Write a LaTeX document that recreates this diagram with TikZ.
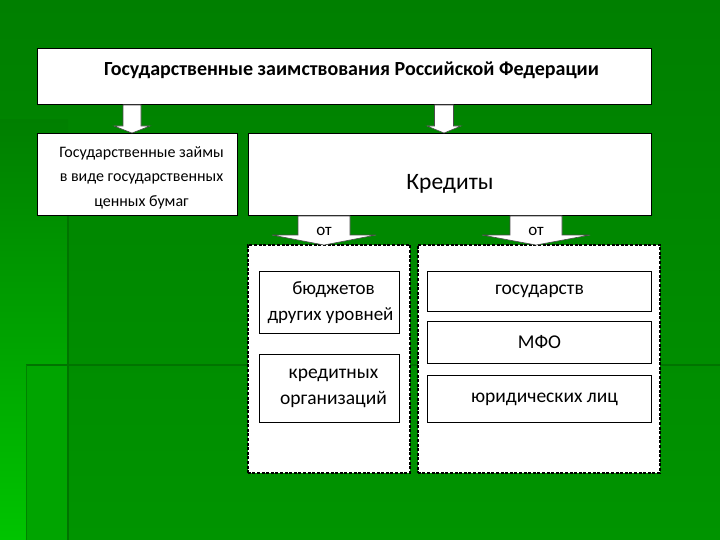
\documentclass[tikz,border=0pt]{standalone}
\usepackage{fontspec}
\setmainfont{Carlito}
\usetikzlibrary{positioning, calc}

\definecolor{bgtop}{HTML}{007F00}
\definecolor{bgbot}{HTML}{009400}
\definecolor{bgbright}{HTML}{00C400}
\definecolor{bgmid}{HTML}{00A400}
\definecolor{bgline}{HTML}{007400}

% block arrow between two coordinates: start, tip, shaft half width, head half width, head length
\newcommand{\downblock}[5]{%
  \draw[blockarrow] let \p1=(#1), \p2=(#2) in
    (\x1-#3pt,\y1) -- (\x1+#3pt,\y1) -- (\x1+#3pt,\y2+#5pt) -- (\x1+#4pt,\y2+#5pt)
    -- (\x1,\y2) -- (\x1-#4pt,\y2+#5pt) -- (\x1-#3pt,\y2+#5pt) -- cycle;}

\begin{document}
\begin{tikzpicture}[
    x=1pt, y=-1pt,
    box/.style={draw=black, line width=1pt, fill=white, inner sep=0pt, anchor=north west, align=center},
    group/.style={draw=black, dash pattern=on 3pt off 1.6pt, line width=1.6pt, fill=white, inner sep=0pt, anchor=north west},
    blockarrow/.style={draw=black!70, line width=0.6pt, fill=white},
    small/.style={font=\fontsize{16}{24.5}\selectfont},
    inner/.style={font=\fontsize{19.5}{26}\selectfont}
]

\useasboundingbox (0,0) rectangle (720,540);

% -------------------------
% BACKGROUND
% -------------------------
\shade[top color=bgtop, bottom color=bgbot] (0,0) rectangle (720,540);
\shade[top color=bgtop, bottom color=bgbright] (0,120) rectangle (68,540);
\fill[bgmid] (26,365) rectangle (68,540);
\draw[bgline, line width=1.5pt] (68,215) -- (68,540);
\draw[bgline, line width=1.2pt] (26,365) -- (720,365);
\draw[bgmid!80!black, line width=0.8pt] (26,365) -- (26,540);

% -------------------------
% BOXES
% -------------------------
\node[box, minimum width=614, minimum height=56] (title) at (37,48) {};
\node[font=\fontsize{20}{22}\selectfont\bfseries] (titletext) at ($(title.center)+(7,-6)$)
    {Государственные заимствования Российской Федерации};

\node[box, minimum width=200, minimum height=82] (loans) at (37,133) {};
\node[small, align=center] (loanstext) at ($(loans.center)+(4,3)$)
    {Государственные займы\\в виде государственных\\ценных бумаг};

\node[box, minimum width=403, minimum height=82] (credits) at (248,133) {};
\node[font=\fontsize{23.5}{26}\selectfont] (credtext) at ($(credits.center)+(0,9)$) {Кредиты};

\node[group, minimum width=162, minimum height=228] (grpL) at (247,244) {};
\node[group, minimum width=242, minimum height=228] (grpR) at (417,244) {};

\node[box, font=\fontsize{19}{26}\selectfont, minimum width=140, minimum height=62] (budget) at (259,271)
    {\hspace*{8pt}бюджетов\\\hspace*{2pt}других уровней};
\node[box, inner, minimum width=140, minimum height=68] (banks) at (259,354)
    {\hspace*{8pt}кредитных\\\hspace*{8pt}организаций};

\node[box, inner, minimum width=224, minimum height=40] (states) at (427,271) {государств};
\node[box, inner, minimum width=224, minimum height=42] (mfo) at (427,321) {МФО};
\node[box, inner, minimum width=224, minimum height=47] (legal) at (427,375) {\hspace*{10pt}юридических лиц};

% -------------------------
% ARROWS
% -------------------------
\coordinate (a1s) at ($(title.south west)+(95,0)$);
\coordinate (a1e) at (a1s |- loans.north);
\downblock{a1s}{a1e}{9}{18}{7}

\coordinate (a2s) at ($(title.south west)+(407,0)$);
\coordinate (a2e) at (a2s |- credits.north);
\downblock{a2s}{a2e}{9.5}{17}{7}

\coordinate (o1s) at ($(credits.south west)+(76,0)$);
\coordinate (o1e) at ($(o1s |- grpL.north)+(0,1)$);
\downblock{o1s}{o1e}{26}{52}{10}
\node[font=\fontsize{17}{20}\selectfont] (ot1) at ($(o1s)!0.5!(o1e)+(0,1)$) {от};

\coordinate (o2s) at ($(credits.south west)+(288,0)$);
\coordinate (o2e) at ($(o2s |- grpR.north)+(0,1)$);
\downblock{o2s}{o2e}{26}{54}{10}
\node[font=\fontsize{17}{20}\selectfont] (ot2) at ($(o2s)!0.5!(o2e)+(0,1)$) {от};

\end{tikzpicture}
\end{document}
